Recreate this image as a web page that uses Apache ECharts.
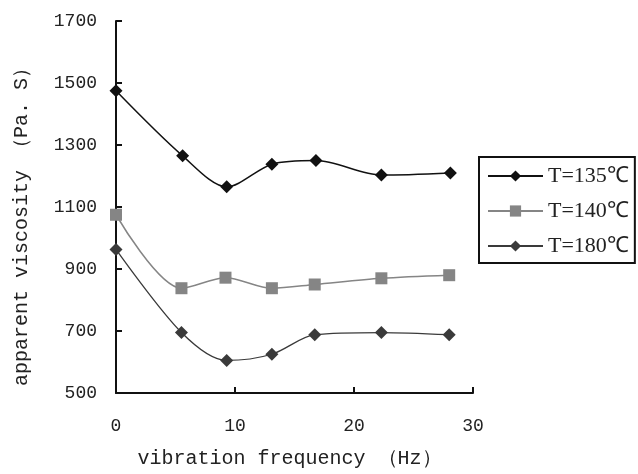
<!DOCTYPE html>
<html><head><meta charset="utf-8">
<script src="https://cdn.jsdelivr.net/npm/echarts@6/dist/echarts.min.js"></script>
<style>html,body{margin:0;padding:0;background:#fff}#c{width:638px;height:474px}</style>
</head><body><div id="c"></div>
<script>
const freq135 = [0, 5.6, 9.3, 13.1, 16.8, 22.3, 28.1];
const visc135 = [1475, 1265, 1165, 1238, 1250, 1203, 1210];
const freq140 = [0, 5.5, 9.2, 13.1, 16.7, 22.3, 28.0];
const visc140 = [1075, 838, 872, 838, 850, 870, 880];
const freq180 = [0, 5.5, 9.3, 13.1, 16.7, 22.3, 28.0];
const visc180 = [963, 695, 605, 625, 688, 695, 688];
const seriesNames = ['T=135℃', 'T=140℃', 'T=180℃'];
const xTitle = 'vibration frequency （Hz）';
const yTitle = 'apparent viscosity （Pa. S）';

const zip = (xs, ys) => xs.map((x, i) => [x, ys[i]]);
const chart = echarts.init(document.getElementById('c'));
const axisFont = {color: '#222', fontFamily: 'Liberation Mono', fontSize: 18};
const titleFont = {color: '#222', fontFamily: 'Liberation Mono', fontSize: 20};
chart.setOption({
  animation: false,
  backgroundColor: '#fff',
  grid: {left: 116, right: 165, top: 21, bottom: 81},
  xAxis: {
    type: 'value', min: 0, max: 30, interval: 10,
    name: xTitle, nameLocation: 'middle', nameGap: 56,
    nameTextStyle: Object.assign({padding: [0, 10, 0, 0]}, titleFont),
    axisLine: {lineStyle: {color: '#111', width: 2}},
    axisTick: {inside: true, length: 6, lineStyle: {color: '#111', width: 2}},
    axisLabel: Object.assign({margin: 24, formatter: v => String(v)}, axisFont),
    splitLine: {show: false}
  },
  yAxis: {
    type: 'value', min: 500, max: 1700, interval: 200,
    name: yTitle, nameLocation: 'middle', nameGap: 84, nameRotate: 90,
    nameTextStyle: Object.assign({padding: [0, 30, 0, 0]}, titleFont),
    axisLine: {show: true, lineStyle: {color: '#111', width: 2}},
    axisTick: {show: true, inside: true, length: 6, lineStyle: {color: '#111', width: 2}},
    axisLabel: Object.assign({margin: 19, formatter: v => String(v)}, axisFont),
    splitLine: {show: false}
  },
  legend: {
    orient: 'vertical', left: 479, top: 157,
    itemWidth: 55, itemHeight: 14, itemGap: 13,
    padding: [8, 6, 6, 8],
    borderColor: '#111', borderWidth: 2,
    textStyle: {color: '#222', fontFamily: 'Liberation Serif', fontSize: 22, lineHeight: 20},
    data: seriesNames
  },
  series: [
    {name: seriesNames[0], type: 'line', smooth: 0.3, data: zip(freq135, visc135),
     symbol: 'diamond', symbolSize: 13,
     itemStyle: {color: '#111'}, lineStyle: {color: '#111', width: 1.5}},
    {name: seriesNames[1], type: 'line', smooth: 0.3, data: zip(freq140, visc140),
     symbol: 'rect', symbolSize: 12,
     itemStyle: {color: '#858585'}, lineStyle: {color: '#858585', width: 1.5}},
    {name: seriesNames[2], type: 'line', smooth: 0.3, data: zip(freq180, visc180),
     symbol: 'diamond', symbolSize: 13,
     itemStyle: {color: '#3a3a3a'}, lineStyle: {color: '#3a3a3a', width: 1.3}}
  ]
});
</script></body></html>
